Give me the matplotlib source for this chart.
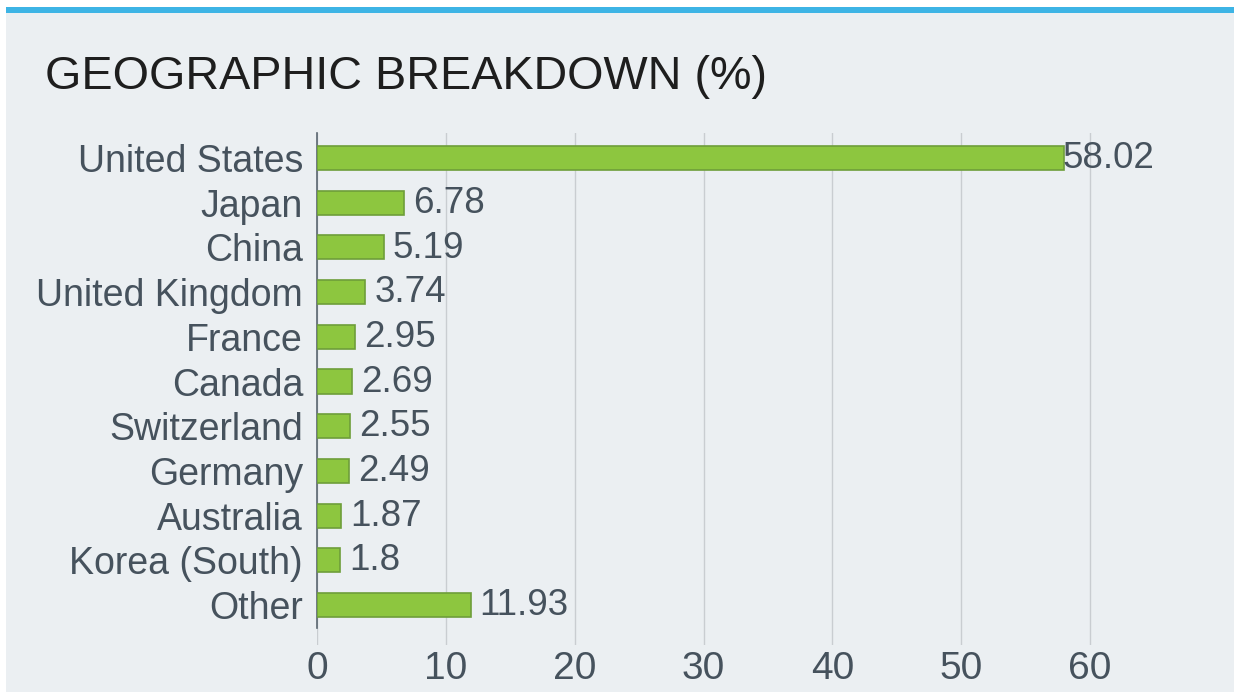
import matplotlib.pyplot as plt
from matplotlib.patches import Rectangle

countries = ['United States', 'Japan', 'China', 'United Kingdom', 'France', 'Canada',
             'Switzerland', 'Germany', 'Australia', 'Korea (South)', 'Other']
weights = [58.02, 6.78, 5.19, 3.74, 2.95, 2.69, 2.55, 2.49, 1.87, 1.8, 11.93]
value_labels = ['58.02', '6.78', '5.19', '3.74', '2.95', '2.69', '2.55', '2.49', '1.87', '1.8', '11.93']
x_ticks = [0, 10, 20, 30, 40, 50, 60]

W, H = 1234, 695
plt.rcParams['font.family'] = ['Liberation Sans', 'DejaVu Sans']

fig = plt.figure(figsize=(W / 100, H / 100), dpi=100)
fig.patch.set_facecolor('white')

# panel background and top blue strip
fig.add_artist(Rectangle((6 / W, 1 - 692 / H), 1 - 6 / W, (692 - 13) / H,
                         transform=fig.transFigure, facecolor='#EBEFF2', edgecolor='none', zorder=0))
fig.add_artist(Rectangle((6 / W, 1 - 13 / H), 1 - 6 / W, 6 / H,
                         transform=fig.transFigure, facecolor='#3DB4E5', edgecolor='none', zorder=0))

fig.text(45 / W, 1 - 77 / H, 'GEOGRAPHIC BREAKDOWN (%)', fontsize=33.7, color='#1E1E1E',
         va='center', ha='left')

# axes: x 0 at px 317, 60 at px 1090; y top 133, bottom 645
px_per_unit = (1090 - 317) / 60
xmax = (1155 - 317) / px_per_unit
left, right = 317 / W, 1155 / W
top, bottom = 1 - 133 / H, 1 - 645 / H
ax = fig.add_axes([left, bottom, right - left, top - bottom])
ax.set_facecolor('none')

row_px = (605 - 158) / 10
ax.set_xlim(0, xmax)
ax.set_ylim((645 - 158) / row_px, -(158 - 133) / row_px)

ypos = list(range(len(countries)))
ax.barh(ypos, weights, height=0.54, color='#8DC63F', edgecolor='#6E9E3A', linewidth=1.2, zorder=3)

for y, v, lab in zip(ypos, weights, value_labels):
    off = -2 if v > 50 else 9
    ax.annotate(lab, (v, y), xytext=(off * 0.72, -0.5), textcoords='offset points',
                va='center', ha='left', fontsize=26.5, color='#46525D', zorder=4)

ax.set_yticks(ypos)
ax.set_yticklabels(countries, fontsize=27, color='#46525D')
ax.set_xticks(x_ticks)
ax.set_xticklabels([str(t) for t in x_ticks], fontsize=28, color='#46525D')
ax.tick_params(axis='y', length=0, pad=10)
ax.tick_params(axis='x', length=0, pad=4)

ax.grid(axis='x', color='#C9CDD1', linewidth=1, zorder=1)
for s in ['top', 'right', 'bottom']:
    ax.spines[s].set_visible(False)
ax.spines['left'].set_color('#5A6670')
ax.spines['left'].set_linewidth(1.2)
ax.spines['left'].set_bounds(-(158 - 133) / row_px, (628 - 158) / row_px)

fig.savefig('out.png', dpi=100, facecolor=fig.get_facecolor())
